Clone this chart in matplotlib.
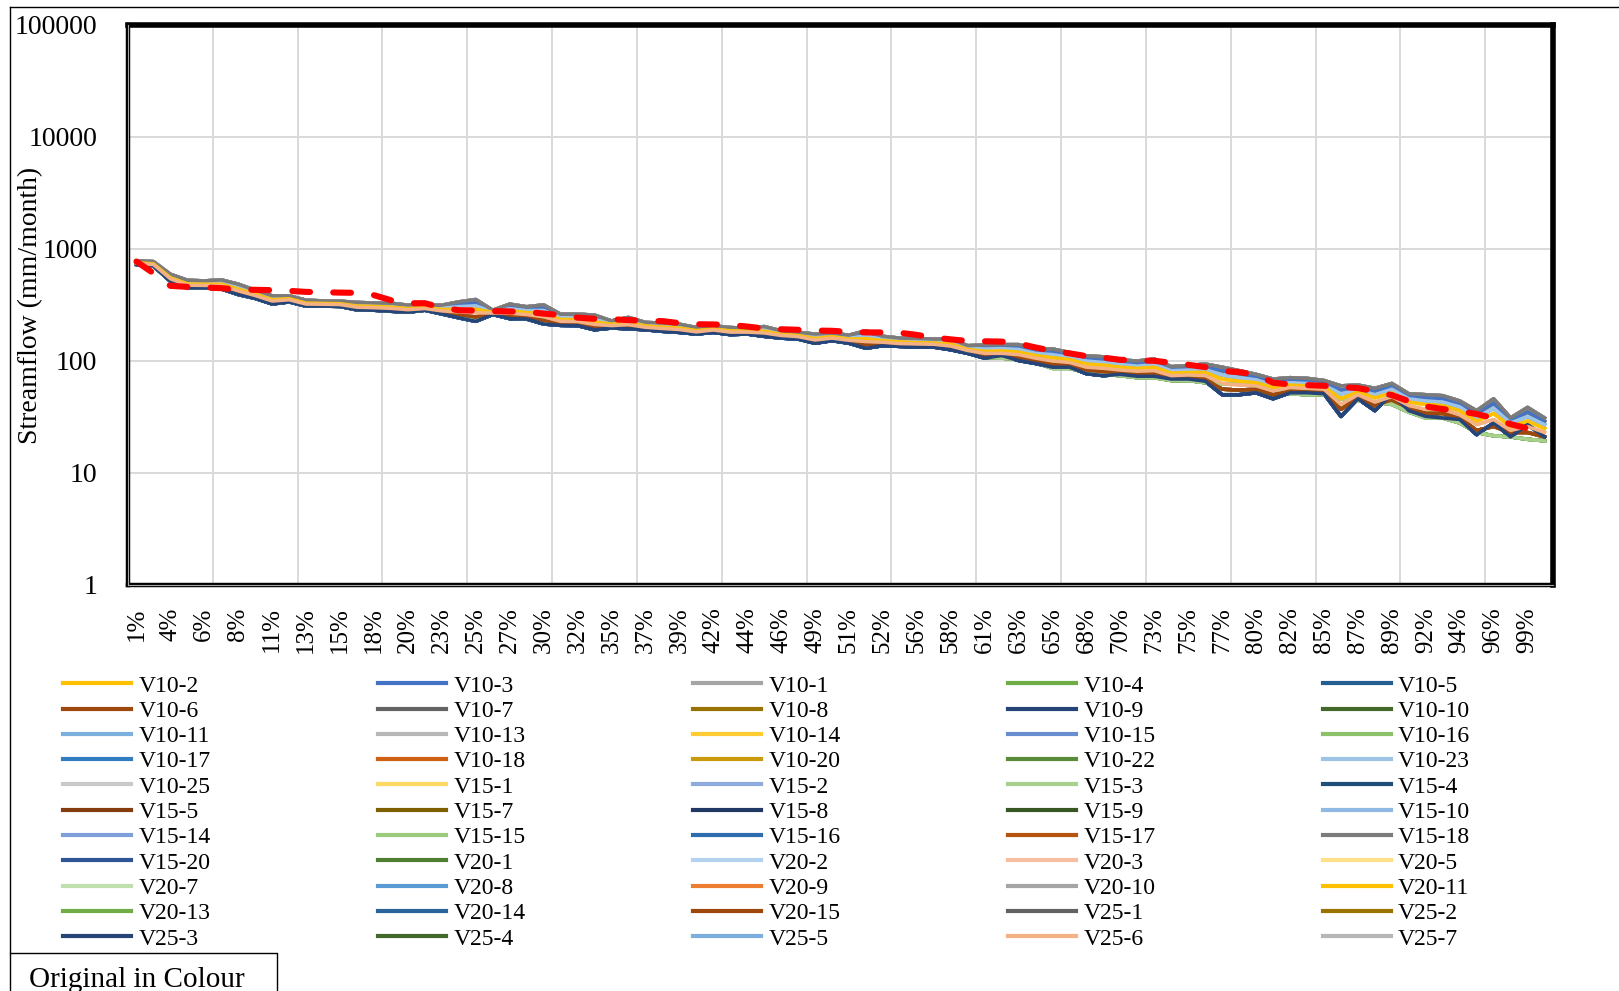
import numpy as np
import matplotlib
matplotlib.use('Agg')
import matplotlib.pyplot as plt
from matplotlib.lines import Line2D

plt.rcParams['font.family'] = ['Liberation Serif', 'DejaVu Serif']

## Exceedance labels (every second category)
pct_labels = ['1%', '4%', '6%', '8%', '11%', '13%', '15%', '18%', '20%', '23%', '25%', '27%',
              '30%', '32%', '35%', '37%', '39%', '42%', '44%', '46%', '49%', '51%', '52%', '56%',
              '58%', '61%', '63%', '65%', '68%', '70%', '73%', '75%', '77%', '80%', '82%', '85%',
              '87%', '89%', '92%', '94%', '96%', '99%']

# Observed flow duration curve (red dashed)
observed = [773, 608, 469, 459, 453, 447, 434, 432, 429, 423, 414, 411, 408, 406, 387, 349, 328,
            328, 300, 284, 282, 279, 277, 275, 265, 257, 244, 238, 236, 232, 228, 227, 218, 213,
            212, 210, 203, 195, 192, 190, 187, 186, 182, 180, 180, 178.5, 171, 162, 156, 151, 150,
            149, 143, 132, 123, 117, 110.5, 107, 102.5, 101, 100.4, 96.4, 92.5, 88.2, 81.5, 79.5, 75.5, 64,
            61.7, 60.9, 60.1, 58.5, 57.3, 53.6, 49.6, 43.8, 39.3, 37.2, 35.7, 33.6, 30.9, 27.3, 25.0, 22.7]

# Simulated curves, read from the band from top edge to bottom edge
q_top = [783, 772, 595, 526, 519, 530, 485, 429, 382, 382, 349, 344, 342, 333, 330, 328, 315, 315, 315, 337,
         354, 284, 322, 305, 317, 262, 262, 257, 228, 245, 221, 218, 213, 199, 206, 199, 196, 203, 186, 180,
         174, 177, 170, 186, 166, 160, 159, 157, 157, 137, 139, 140, 140, 128, 128, 119, 111, 109, 102, 100,
         104, 89, 91, 94, 88, 82, 76, 69, 71, 70, 67, 60, 61, 57, 63, 51, 50, 49, 44, 36, 46, 31, 38.5, 31]
q_m1 = [774, 761, 582, 513, 508, 515, 470, 418, 372, 375, 342, 338, 336, 325, 322, 320, 308, 310, 306, 321,
        333, 280, 308, 294, 300, 253, 253, 246, 223, 236, 216, 212, 208, 195, 202, 195, 192, 197, 182, 176,
        169, 173, 166, 177, 161, 156, 155, 153, 152, 134, 133, 134, 134, 122, 121, 114, 105, 103, 97, 95,
        98, 85, 87, 89, 82, 77, 72, 65, 68, 67, 64, 55, 58, 54, 59, 48, 47, 46, 41, 34, 42, 29, 35, 29]
q_m2 = [765, 750, 568, 501, 496, 500, 454, 407, 362, 367, 336, 332, 330, 317, 315, 311, 301, 305, 298, 306,
        311, 276, 294, 282, 283, 244, 244, 235, 218, 228, 211, 207, 202, 191, 197, 190, 189, 191, 177, 172,
        164, 169, 161, 167, 156, 152, 150, 149, 147, 130, 128, 129, 127, 117, 114, 108, 100, 97, 93, 90,
        93, 82, 83, 84, 75, 71, 68, 61, 64, 63, 61, 51, 55, 50, 56, 46, 44, 43, 39, 31, 38, 28, 32, 27]
q_m3 = [755, 738, 555, 488, 485, 485, 439, 396, 353, 360, 329, 327, 325, 310, 307, 303, 294, 300, 289, 290,
        290, 272, 281, 271, 266, 235, 235, 224, 213, 220, 206, 201, 197, 187, 193, 186, 185, 185, 173, 169,
        159, 165, 157, 158, 152, 148, 146, 145, 142, 127, 122, 123, 120, 112, 107, 103, 94, 92, 88, 86,
        88, 78, 79, 79, 69, 66, 64, 58, 61, 60, 59, 46, 53, 47, 52, 43, 41, 40, 36, 29, 34, 26, 29, 25]
q_m4 = [746, 727, 542, 475, 473, 470, 423, 384, 343, 352, 322, 321, 319, 302, 299, 295, 287, 294, 280, 274,
        269, 268, 267, 260, 248, 226, 225, 212, 207, 211, 200, 195, 191, 182, 189, 181, 181, 178, 169, 165,
        154, 160, 153, 149, 147, 143, 142, 141, 136, 124, 117, 117, 114, 106, 100, 97, 88, 86, 83, 81,
        82, 74, 75, 74, 63, 61, 60, 54, 58, 57, 56, 41, 50, 43, 48, 40, 37, 37, 33, 27, 30, 24, 26, 23]
q_m5 = [737, 716, 528, 463, 462, 455, 408, 373, 333, 345, 316, 315, 313, 294, 292, 286, 280, 289, 272, 259,
        247, 264, 253, 248, 231, 217, 216, 201, 202, 203, 195, 190, 186, 178, 184, 177, 178, 172, 164, 161,
        149, 156, 148, 139, 142, 139, 137, 137, 131, 120, 111, 112, 107, 100, 93, 92, 83, 80, 79, 76,
        77, 71, 71, 69, 56, 55, 56, 50, 54, 53, 53, 37, 47, 40, 45, 38, 34, 34, 31, 24, 26, 23, 23, 21]
q_low = [731, 707, 519, 453, 453, 443, 395, 364, 326, 339, 311, 311, 309, 288, 286, 280, 275, 286, 265, 245,
         228, 262, 241, 239, 216, 210, 209, 192, 199, 196, 192, 186, 182, 176, 182, 174, 176, 168, 162, 159,
         146, 154, 146, 132, 139, 137, 135, 135, 128, 119, 108, 106, 104, 97, 86, 86, 79, 76, 74, 71,
         71, 67, 67, 64, 62, 62, 60, 58, 51, 50, 50, 46, 44, 43, 41, 35, 31, 31, 28, 23, 21.5, 21, 20, 19.4]
q_dip = [728, 705, 515, 450, 450, 440, 392, 362, 323, 337, 309, 309, 307, 286, 284, 278, 273, 284, 263, 243,
         226, 260, 239, 237, 214, 208, 207, 190, 197, 194, 190, 184, 180, 174, 180, 172, 174, 166, 160, 157,
         144, 152, 144, 130, 137, 135, 133, 133, 126, 117, 106, 112, 101, 95, 88, 88, 77, 74, 76, 73,
         73, 69, 69, 66, 50, 50, 52, 46, 52, 52, 51, 32, 46, 36, 51, 36, 32, 31, 30, 22, 28, 21, 27, 21]
curves = [q_top, q_m1, q_m2, q_m3, q_m4, q_m5, q_low, q_dip]

# Series names (legend order), colours and which curve each one follows
names = ['V10-2', 'V10-3', 'V10-1', 'V10-4', 'V10-5',
         'V10-6', 'V10-7', 'V10-8', 'V10-9', 'V10-10',
         'V10-11', 'V10-13', 'V10-14', 'V10-15', 'V10-16',
         'V10-17', 'V10-18', 'V10-20', 'V10-22', 'V10-23',
         'V10-25', 'V15-1', 'V15-2', 'V15-3', 'V15-4',
         'V15-5', 'V15-7', 'V15-8', 'V15-9', 'V15-10',
         'V15-14', 'V15-15', 'V15-16', 'V15-17', 'V15-18',
         'V15-20', 'V20-1', 'V20-2', 'V20-3', 'V20-5',
         'V20-7', 'V20-8', 'V20-9', 'V20-10', 'V20-11',
         'V20-13', 'V20-14', 'V20-15', 'V25-1', 'V25-2',
         'V25-3', 'V25-4', 'V25-5', 'V25-6', 'V25-7']
colours = ['#FFC000', '#4472C4', '#A5A5A5', '#70AD47', '#255E91',
           '#9E480E', '#636363', '#997300', '#264478', '#43682B',
           '#7CAFDD', '#B7B7B7', '#FFCD33', '#698ED0', '#8CC168',
           '#327DC2', '#CF5F13', '#C99A0C', '#588C3A', '#9DC3E6',
           '#C9C9C9', '#FFD966', '#8FAADC', '#A9D18E', '#1F4E79',
           '#843C0C', '#7F6000', '#203864', '#385723', '#8FB9E3',
           '#7F9FD8', '#9CCB7E', '#2E6DAE', '#B4540F', '#7B7B7B',
           '#2F5597', '#4F7F30', '#B4D2EE', '#F7BFA0', '#FFE08A',
           '#C0DFAC', '#5B9BD5', '#ED7D31', '#A5A5A5', '#FFC000',
           '#70AD47', '#2A6399', '#9E480E', '#636363', '#997300',
           '#264478', '#43682B', '#7CAFDD', '#F4B183', '#B7B7B7']
curve_of = [3, 1, 0, 6, 7,
            5, 0, 1, 7, 6,
            2, 0, 3, 1, 6,
            7, 5, 3, 6, 2,
            1, 3, 1, 6, 7,
            5, 1, 7, 6, 2,
            2, 6, 7, 5, 0,
            7, 6, 2, 4, 3,
            6, 2, 5, 0, 3,
            6, 7, 5, 0, 1,
            7, 5, 2, 4, 0]
# series whose colour shows on top of its curve
front = ['V15-18', 'V10-3', 'V10-23', 'V20-11', 'V25-6', 'V20-15', 'V15-3', 'V25-3']

W, H = 1619, 991
fig = plt.figure(figsize=(W / 100, H / 100), dpi=100)
ax = fig.add_axes([128 / W, 1 - 585 / H, (1553 - 128) / W, (585 - 25) / H])

xpos = np.arange(len(observed))
handles = []
for name, col, c in zip(names, colours, curve_of):
    zo = 2.5 if name in front else 2
    ln, = ax.plot(xpos, curves[c], color=col, lw=2.5, label=name, zorder=zo)
    handles.append(ln)

ax.plot(xpos, observed, color='#FF0000', lw=4.4, linestyle=(0, (2.9, 3.8)),
        dash_capstyle='round', zorder=4)

ax.set_yscale('log')
ax.set_ylim(1, 100000)
ax.set_xlim(-0.5, len(observed) - 0.5)
ax.set_yticks([1, 10, 100, 1000, 10000, 100000])
ax.set_yticklabels(['1', '10', '100', '1000', '10000', '100000'], fontsize=20)
ax.yaxis.set_minor_locator(matplotlib.ticker.NullLocator())
ax.set_xticks(np.arange(0, len(observed), 2))
ax.set_xticklabels(pct_labels, rotation=90, fontsize=18, va='top', ha='center')
ax.set_xticks(np.arange(4.5, len(observed) - 1, 5), minor=True)
ax.tick_params(which='both', length=0)
ax.tick_params(axis='x', pad=16)
ax.tick_params(axis='y', pad=22)
ax.grid(True, which='major', axis='y', color='#D9D9D9', lw=1.4, zorder=0)
ax.grid(True, which='minor', axis='x', color='#D9D9D9', lw=1.4, zorder=0)
ax.set_axisbelow(True)
for s in ax.spines.values():
    s.set_linewidth(3.2)
    s.set_color('black')
ax.spines['top'].set_linewidth(4)
ax.spines['right'].set_linewidth(4)
# double-line look on left and bottom frame
ax.plot([0, 1], [0, 0], transform=ax.transAxes, color='#A6A6A6', lw=0.8, clip_on=False, zorder=5)
ax.plot([0, 0], [0, 1], transform=ax.transAxes, color='#A6A6A6', lw=0.8, clip_on=False, zorder=5)

fig.text(31 / W, 1 - 305 / H, 'Streamflow (mm/month)', rotation=90, fontsize=20,
         ha='center', va='center')

# Legend laid out row by row like the original
order = [r * 5 + c for c in range(5) for r in range(11)]
leg = fig.legend([handles[k] for k in order], [names[k] for k in order], ncol=5,
                 loc='upper left', bbox_to_anchor=(63 / W, 1 - 675 / H), frameon=False,
                 fontsize=17, handlelength=2.9, handletextpad=0.3, columnspacing=7.08,
                 labelspacing=0.16, borderpad=0, borderaxespad=0)
for hl in leg.get_lines():
    hl.set_linewidth(3)

# Chart area border and caption box
fig.add_artist(Line2D([10 / W, 1], [1 - 7 / H, 1 - 7 / H], color='black', lw=1,
                      transform=fig.transFigure))
fig.add_artist(Line2D([10 / W, 10 / W], [0, 1 - 7 / H], color='black', lw=1,
                      transform=fig.transFigure))
fig.add_artist(Line2D([10 / W, 277 / W, 277 / W], [1 - 953 / H, 1 - 953 / H, 0],
                      color='black', lw=1, transform=fig.transFigure))
fig.text(29 / W, 1 - 987 / H, 'Original in Colour', fontsize=21, ha='left', va='baseline')

fig.savefig('out.png', dpi=100)
